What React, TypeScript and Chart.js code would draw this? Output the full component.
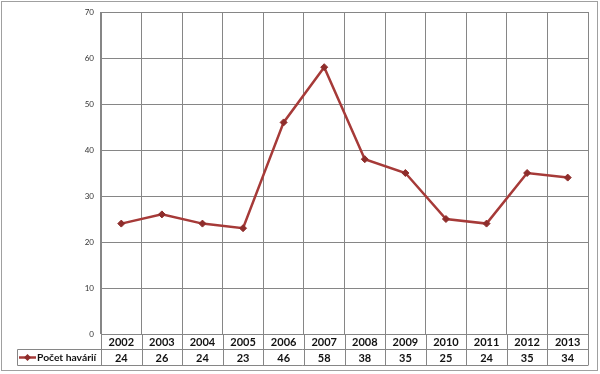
import React, { useEffect, useRef } from "react";
import { Chart, registerables } from "chart.js";

Chart.register(...registerables);

const years = ["2002", "2003", "2004", "2005", "2006", "2007", "2008", "2009", "2010", "2011", "2012", "2013"];
const accidents = [24, 26, 24, 23, 46, 58, 38, 35, 25, 24, 35, 34];
const seriesLabel = "Počet havárií";
const yTicks = [0, 10, 20, 30, 40, 50, 60, 70];

const LINE = "#a63a38";
const MARK = "#8e2d2b";
const GRID = "#868686";
const FONT = "Lato, 'Open Sans', sans-serif";

const tablePlugin = {
  id: "dataTable",
  afterDraw(chart: any) {
    const ctx = chart.ctx;
    const area = chart.chartArea;
    const xs = chart.scales.x;
    const n = years.length;
    const step = (area.right - area.left) / n;
    const row1Top = area.bottom;
    const row1Bot = area.bottom + 15.5;
    const row2Bot = row1Bot + 16;
    const legLeft = 17.5;
    ctx.save();
    ctx.strokeStyle = GRID;
    ctx.lineWidth = 1;
    ctx.beginPath();
    for (let i = 0; i <= n; i++) {
      const x = Math.round(area.left + i * step) + 0.5;
      ctx.moveTo(x, row1Top);
      ctx.lineTo(x, row2Bot);
    }
    ctx.moveTo(legLeft, row1Bot);
    ctx.lineTo(area.right, row1Bot);
    ctx.moveTo(legLeft, row2Bot);
    ctx.lineTo(area.right, row2Bot);
    ctx.moveTo(legLeft, row1Bot);
    ctx.lineTo(legLeft, row2Bot);
    ctx.stroke();

    ctx.fillStyle = "#111";
    ctx.font = "bold 11px " + FONT;
    ctx.textAlign = "center";
    ctx.textBaseline = "middle";
    for (let i = 0; i < n; i++) {
      const x = xs.getPixelForValue(i);
      ctx.fillText(years[i], x, (row1Top + row1Bot) / 2 + 0.5);
      ctx.fillText(String(accidents[i]), x, (row1Bot + row2Bot) / 2 + 0.5);
    }
    const ly = (row1Bot + row2Bot) / 2;
    ctx.strokeStyle = LINE;
    ctx.lineWidth = 2.5;
    ctx.beginPath();
    ctx.moveTo(19, ly);
    ctx.lineTo(36, ly);
    ctx.stroke();
    ctx.fillStyle = MARK;
    ctx.beginPath();
    ctx.moveTo(27.5, ly - 3.5);
    ctx.lineTo(31, ly);
    ctx.lineTo(27.5, ly + 3.5);
    ctx.lineTo(24, ly);
    ctx.closePath();
    ctx.fill();
    ctx.fillStyle = "#111";
    ctx.textAlign = "left";
    ctx.font = "bold 10.3px " + FONT;
    ctx.fillText(seriesLabel, 37, ly + 0.5);

    ctx.strokeStyle = "#a0a0a0";
    ctx.lineWidth = 1;
    ctx.strokeRect(1.5, 1.5, 596, 369);
    ctx.restore();
  },
};

export default function App() {
  const ref = useRef<HTMLCanvasElement | null>(null);
  useEffect(() => {
    document.body.style.margin = "0";
    const canvas = ref.current!;
    const chart = new Chart(canvas, {
      type: "line",
      data: {
        labels: years,
        datasets: [
          {
            label: seriesLabel,
            data: accidents,
            borderColor: LINE,
            borderWidth: 2.5,
            backgroundColor: MARK,
            pointStyle: "rectRot",
            pointRadius: 3.5,
            pointBorderColor: MARK,
            pointBackgroundColor: MARK,
            pointBorderWidth: 1,
            tension: 0,
          },
        ],
      },
      options: {
        animation: false,
        responsive: false,
        maintainAspectRatio: false,
        layout: { padding: { left: 0, right: 12, top: 12, bottom: 40 } },
        plugins: { legend: { display: false }, tooltip: { enabled: false } },
        scales: {
          x: {
            type: "category",
            offset: true,
            grid: { offset: true, color: GRID, lineWidth: 1, drawTicks: false },
            border: { color: GRID, width: 1 },
            ticks: { display: false },
            afterFit: (s: any) => {
              s.height = 0;
            },
          },
          y: {
            min: 0,
            max: 70,
            afterBuildTicks: (s: any) => {
              s.ticks = yTicks.map((v) => ({ value: v }));
            },
            grid: { color: GRID, lineWidth: 1, drawTicks: false },
            border: { color: GRID, width: 1 },
            ticks: {
              padding: 7,
              color: "#333",
              font: { size: 8, family: FONT },
            },
            afterFit: (s: any) => {
              s.width = 101;
            },
          },
        },
      },
      plugins: [
        tablePlugin,
        {
          id: "topBorder",
          afterDraw(chart: any) {
            const a = chart.chartArea;
            const c = chart.ctx;
            c.save();
            c.strokeStyle = GRID;
            c.lineWidth = 1;
            c.strokeRect(Math.round(a.left) + 0.5, Math.round(a.top) + 0.5, Math.round(a.right - a.left), Math.round(a.bottom - a.top));
            c.restore();
          },
        },
      ],
    } as any);
    return () => chart.destroy();
  }, []);
  return (
    <div style={{ width: 600, height: 374, background: "#fff" }}>
      <canvas ref={ref} width={600} height={374} style={{ display: "block" }} />
    </div>
  );
}
